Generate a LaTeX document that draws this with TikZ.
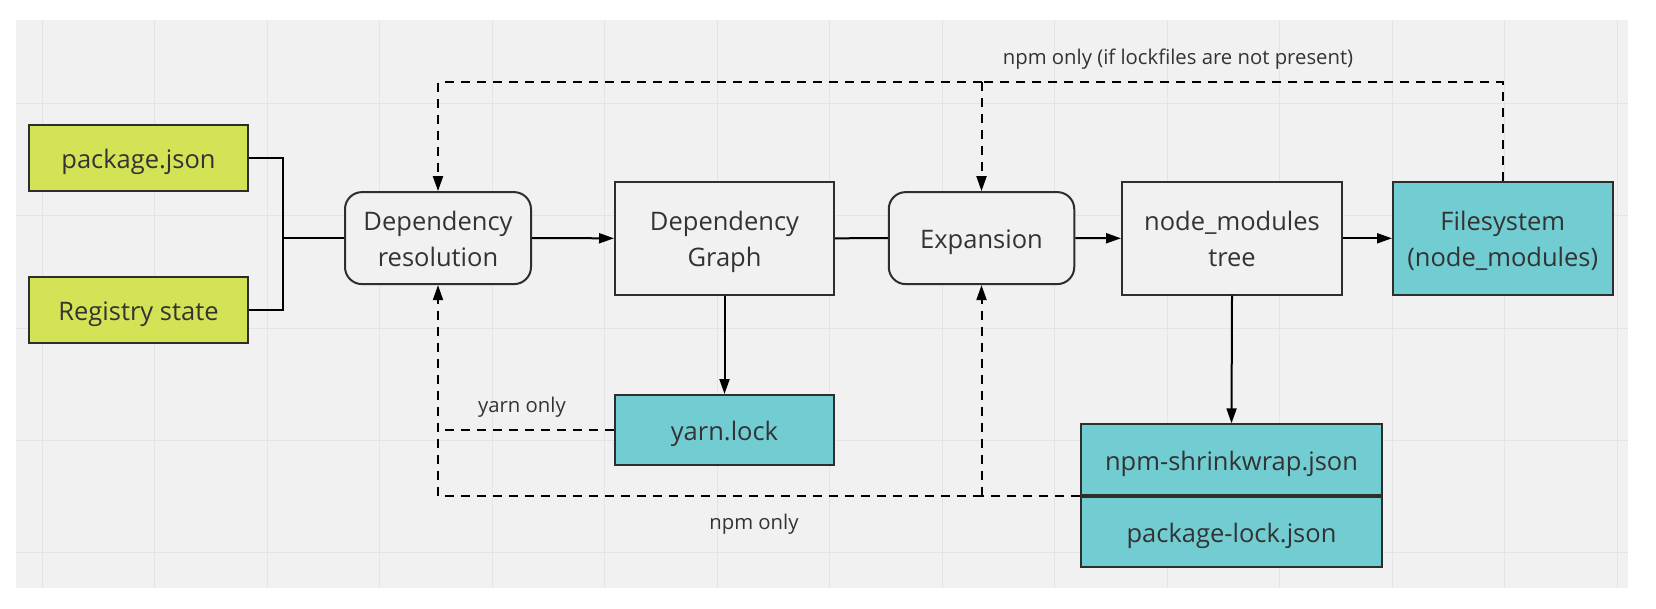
\documentclass[tikz,border=0pt]{standalone}
\usepackage{fontspec}
\setmainfont{Open Sans}
\usetikzlibrary{arrows.meta}
\definecolor{bgc}{HTML}{F1F1F1}
\definecolor{gridc}{HTML}{E4E4E4}
\definecolor{limec}{HTML}{D4E356}
\definecolor{tealc}{HTML}{72CDD3}
\definecolor{inkc}{HTML}{2E2E2E}
\definecolor{txtc}{HTML}{333333}
\newcommand\firstln[1]{\rule{0pt}{21pt}#1}
\newcommand\lastln[1]{\smash{#1}}
\newcommand\oneln[1]{\rule{0pt}{21pt}\smash{#1}}
\tikzset{
  box/.style={draw=inkc, line width=2pt, inner sep=0pt, align=center, text=txtc,
    font=\fontsize{25.5}{36}\selectfont},
  plainbox/.style={box, fill=bgc},
  roundbox/.style={box, fill=bgc, rounded corners=17pt},
  limebox/.style={box, fill=limec},
  tealbox/.style={box, fill=tealc},
  conn/.style={draw=black, line width=2pt},
  arr/.style={conn, -{Triangle[length=15pt,width=10pt]}},
  dconn/.style={conn, dash pattern=on 9pt off 7pt},
  darr/.style={dconn, -{Triangle[length=15pt,width=10pt]}},
  lbl/.style={text=txtc, inner sep=0pt, anchor=base, font=\fontsize{20.3}{24}\selectfont}
}
\begin{document}
\begin{tikzpicture}[x=1pt,y=-1pt]
\useasboundingbox[fill=white] (0,0) rectangle (1656,608);
\fill[bgc] (16,20.2) rectangle (1628,587.5);
\begin{scope}[gridc, line width=1pt]
\foreach \gx in {42,154.5,267,379.5,492,604.5,717,829.5,942,1054.5,1167,1279.5,1392,1504.5,1617}
  \draw (\gx,20.2) -- (\gx,587.5);
\foreach \gy in {103.5,215.8,328.2,440.5,552.8}
  \draw (16,\gy) -- (1628,\gy);
\end{scope}

% nodes
\node[limebox, minimum width=219pt, minimum height=66pt] (pkg) at (138.5,157.9) {\oneln{package.json}};
\node[limebox, minimum width=219pt, minimum height=66pt] (reg) at (138.5,309.6) {\oneln{Registry state}};
\node[roundbox, minimum width=186pt, minimum height=92pt] (dres) at (438,238.1) {\firstln{Dependency}\\\lastln{resolution}};
\node[plainbox, minimum width=219pt, minimum height=112.8pt] (dgraph) at (724.5,238.3) {\firstln{Dependency}\\\lastln{Graph}};
\node[roundbox, minimum width=185.5pt, minimum height=92pt] (exp) at (981.5,238.1) {\oneln{Expansion}};
\node[plainbox, minimum width=220pt, minimum height=112.8pt] (nmtree) at (1232,238.3) {\firstln{node\_modules}\\\lastln{tree}};
\node[tealbox, minimum width=219.5pt, minimum height=112.8pt] (fs) at (1502.75,238.3) {\firstln{Filesystem}\\\lastln{(node\_modules)}};
\node[tealbox, minimum width=219pt, minimum height=70pt] (yarn) at (724.5,430) {\oneln{yarn.lock}};
\node[tealbox, minimum width=301pt, minimum height=70.7pt] (shrink) at (1231.5,459.65) {\oneln{npm-shrinkwrap.json}};
\node[tealbox, minimum width=301pt, minimum height=70pt] (plock) at (1231.5,531.7) {\oneln{package-lock.json}};

% labels
\node[lbl] (ltop) at (1178,64) {npm only (if lockfiles are not present)};
\node[lbl] (lyarn) at (522,412.7) {yarn only};
\node[lbl] (lnpm) at (754,529.3) {npm only};

% junction coordinates
\coordinate (jx) at (283,238.1);
\coordinate (tr) at (1502.75,82.2);
\coordinate (tm) at (exp.north |- tr);
\coordinate (tl) at (dres.north |- tr);
\coordinate (bm) at (exp.south |- shrink.south west);
\coordinate (bl) at (dres.south |- shrink.south west);
\coordinate (yl) at (dres.south |- yarn.west);

% solid connectors
\draw[conn] (pkg.east) -| (jx);
\draw[conn] (reg.east) -| (jx);
\draw[conn] (jx) -- (dres.west);
\draw[arr] (dres.east) -- (dgraph.west);
\draw[conn] (dgraph.east) -- (exp.west);
\draw[arr] (exp.east) -- (nmtree.west);
\draw[arr] (nmtree.east) -- (fs.west);
\draw[arr] (dgraph.south) -- (yarn.north);
\draw[arr] (nmtree.south) -- (shrink.north);

% dashed connectors
\draw[dconn] (fs.north) -- (tr) -- (tm);
\draw[darr] (tm) -- (tl) -- (dres.north);
\draw[darr] (tm) -- (exp.north);
\draw[dconn] (shrink.south west) -- (bm);
\draw[darr] (bm) -- (bl) -- (dres.south);
\draw[darr] (bm) -- (exp.south);
\draw[dconn] (yarn.west) -- (yl);
\end{tikzpicture}
\end{document}
